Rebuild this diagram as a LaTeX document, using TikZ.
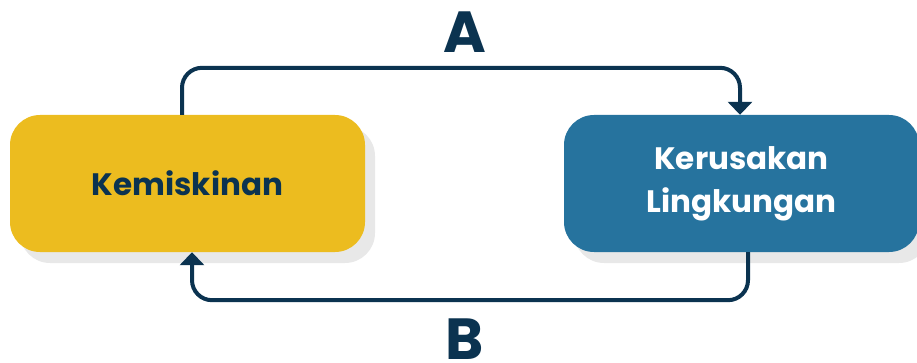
\documentclass[tikz,border=0pt]{standalone}
\usepackage{fontspec}
\setmainfont{Poppins}[BoldFont={* Bold}]
\usetikzlibrary{arrows.meta,shadows,positioning}
\definecolor{kyellow}{HTML}{ECBC1F}
\definecolor{kblue}{HTML}{26739E}
\definecolor{knavy}{HTML}{0B3350}
\definecolor{kshadow}{HTML}{E8E8E8}
\begin{document}
\begin{tikzpicture}[x=1pt,y=-1pt,
  box/.style={rounded corners=30pt, minimum width=355pt, minimum height=137pt,
    inner sep=0pt, align=center, font=\bfseries\fontsize{31}{43}\selectfont,
    drop shadow={shadow xshift=10pt, shadow yshift=-11pt, fill=kshadow, opacity=1}},
  conn/.style={draw=knavy, line width=4pt, rounded corners=20pt,
    -{Triangle[width=24pt,length=13pt]}},
  lbl/.style={anchor=base, text=knavy, inner sep=0pt, text depth=0pt,
    font=\bfseries\fontsize{58}{58}\selectfont}]
\useasboundingbox (0,0) rectangle (917,363);
\node[box, fill=kyellow, text=knavy] (k) at (187.5,183.5) {Kemiskinan};
\node[box, fill=kblue, text=white] (r) at (741.5,183.5) {Kerusakan\\Lingkungan};
\draw[conn] ([xshift=-5.5pt]k.north) -- ++(0,-47) -| ([xshift=-1.5pt]r.north);
\draw[conn] ([xshift=6.5pt]r.south) -- ++(0,48) -| ([xshift=4.5pt]k.south);
\node[lbl] (la) at (465,53) {A};
\node[lbl] (lb) at (465,359) {B};
\end{tikzpicture}
\end{document}
